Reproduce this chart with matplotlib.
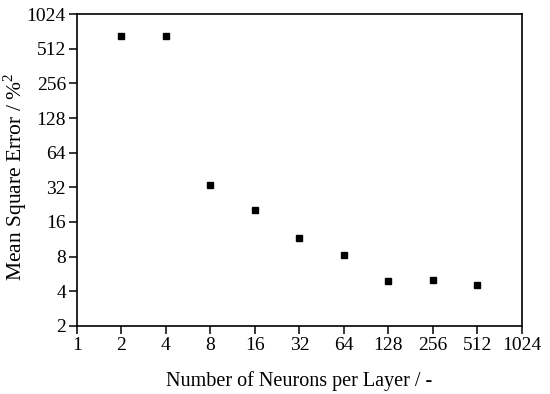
import matplotlib
matplotlib.use("Agg")
import matplotlib.pyplot as plt
from matplotlib.ticker import FixedLocator, FixedFormatter, NullLocator

neurons = [2, 4, 8, 16, 32, 64, 128, 256, 512]
mse = [663, 663, 33.6, 20.2, 11.5, 8.25, 4.9, 4.97, 4.49]
x_ticks = [1, 2, 4, 8, 16, 32, 64, 128, 256, 512, 1024]
y_ticks = [2, 4, 8, 16, 32, 64, 128, 256, 512, 1024]

plt.rcParams['font.family'] = ['Liberation Serif', 'DejaVu Serif']
plt.rcParams['mathtext.fontset'] = 'custom'
plt.rcParams['mathtext.rm'] = 'Liberation Serif'

fig = plt.figure(figsize=(5.5, 3.94), dpi=100)
ax = fig.add_axes([0.14, 0.173, 0.809, 0.791])
ax.plot(neurons, mse, linestyle='none', marker='s', markersize=4.5, color='black')
ax.set_xscale('log', base=2)
ax.set_yscale('log', base=2)
ax.set_xlim(1, 1024)
ax.set_ylim(2, 1024)
ax.xaxis.set_major_locator(FixedLocator(x_ticks))
ax.xaxis.set_major_formatter(FixedFormatter([str(t) for t in x_ticks]))
ax.yaxis.set_major_locator(FixedLocator(y_ticks))
ax.yaxis.set_major_formatter(FixedFormatter([str(t) for t in y_ticks]))
ax.xaxis.set_minor_locator(NullLocator())
ax.yaxis.set_minor_locator(NullLocator())
ax.tick_params(axis='both', direction='out', length=6, width=1.1, labelsize=14, pad=2)
for s in ax.spines.values():
    s.set_linewidth(1.2)
ax.set_xlabel('Number of Neurons per Layer / -', fontsize=14.5, labelpad=12)
ax.set_ylabel('Mean Square Error / %$^\\mathrm{2}$', fontsize=15.5)
ax.yaxis.set_label_coords(-0.108, 0.477)
fig.savefig('out.png', dpi=100)
